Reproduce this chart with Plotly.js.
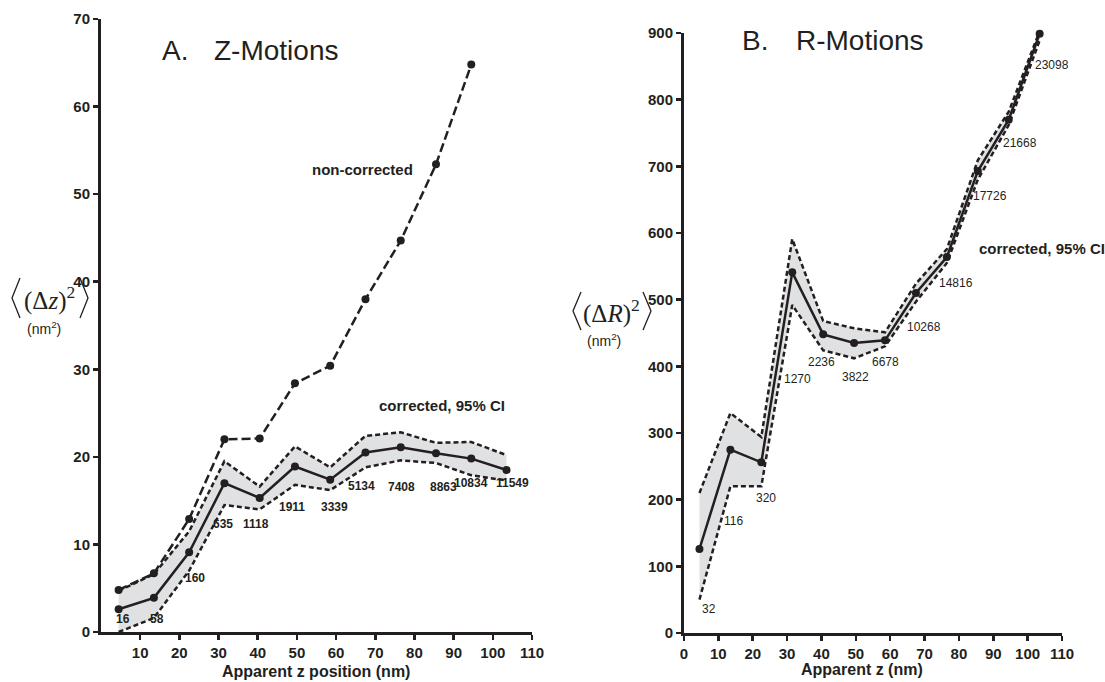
<!DOCTYPE html>
<html>
<head>
<meta charset="utf-8">
<script src="https://cdn.plot.ly/plotly-3.0.1.min.js"></script>
<style>html,body{margin:0;padding:0;background:#fff}#chart{width:1105px;height:682px}</style>
</head>
<body>
<div id="chart"></div>
<script>
// ---------- data ----------
const zPos = [4.5, 13.5, 22.5, 31.5, 40.5, 49.5, 58.5, 67.5, 76.5, 85.5, 94.5, 103.5];

// Panel A: Z-motions (nm^2)
const zCorrected = [2.6, 3.9, 9.1, 17.0, 15.3, 18.9, 17.4, 20.5, 21.1, 20.4, 19.8, 18.5];
const zUpperCI   = [4.7, 6.6, 11.5, 19.5, 16.6, 21.2, 18.8, 22.4, 22.8, 21.6, 21.7, 20.2];
const zLowerCI   = [0.0, 1.6, 7.0, 14.5, 14.0, 16.8, 16.2, 18.8, 19.6, 19.3, 17.9, 17.3];
const zNonCorrected = [4.8, 6.7, 12.9, 22.0, 22.1, 28.4, 30.4, 38.0, 44.7, 53.4, 64.8];
const zCounts = ["16","58","160","635","1118","1911","3339","5134","7408","8863","10834","11549"];

// Panel B: R-motions (nm^2)
const rCorrected = [126, 275, 256, 541, 448, 435, 439, 510, 564, 693, 770, 899];
const rUpperCI   = [210, 330, 294, 591, 468, 457, 451, 524, 576, 709, 782, 903];
const rLowerCI   = [50, 220, 220, 492, 424, 412, 430, 497, 555, 680, 762, 889];
const rCounts = ["32","116","320","1270","2236","3822","6678","10268","14816","17726","21668","23098"];

// tick values
const zXTicks = [10,20,30,40,50,60,70,80,90,100,110];
const zYTicks = [0,10,20,30,40,50,60,70];
const rXTicks = [0,10,20,30,40,50,60,70,80,90,100,110];
const rYTicks = [0,100,200,300,400,500,600,700,800,900];

// ---------- label placement (positions only) ----------
const zLabelX = [5.6,14.3,24.0,31.1,39.6,48.7,59.7,66.6,76.6,87.3,94.4,104.9];
const zLabelY = [1.5,1.5,6.2,12.3,12.3,14.3,14.3,16.7,16.6,16.6,17.0,17.0];
const rLabelX = [7.3,14.3,23.9,32.9,39.9,49.8,58.5,69.8,79.2,89.1,97.8,107.1];
const rLabelY = [36,168,202,381,406,384,406,459,525,655,735,852];

// ---------- styles ----------
const W = 1105, H = 682;
const SANS = "Liberation Sans, Arial, sans-serif";
const SERIF = "Liberation Serif, Times New Roman, serif";
const INK = "#231f20";
const FILL = "#e0e1e3";
const px = x => x / W;
const py = y => 1 - y / H;

const ciLine = {color: INK, width: 2.5, dash: "5px,3px"};
const mainLine = {color: INK, width: 2.5};
const mark = {color: INK, size: 8, symbol: "circle"};

const traces = [
  // Panel A
  {x: zPos, y: zLowerCI, xaxis: "x", yaxis: "y", mode: "lines", line: ciLine, hoverinfo: "skip", cliponaxis: false},
  {x: zPos, y: zUpperCI, xaxis: "x", yaxis: "y", mode: "lines", line: ciLine, fill: "tonexty", fillcolor: FILL, hoverinfo: "skip", cliponaxis: false},
  {x: zPos.slice(0, zNonCorrected.length), y: zNonCorrected, xaxis: "x", yaxis: "y", mode: "lines+markers",
   line: {color: INK, width: 2.5, dash: "9px,4px"}, marker: mark, cliponaxis: false},
  {x: zPos, y: zCorrected, xaxis: "x", yaxis: "y", mode: "lines+markers", line: mainLine, marker: mark, cliponaxis: false},
  // Panel B
  {x: zPos, y: rLowerCI, xaxis: "x2", yaxis: "y2", mode: "lines", line: ciLine, hoverinfo: "skip", cliponaxis: false},
  {x: zPos, y: rUpperCI, xaxis: "x2", yaxis: "y2", mode: "lines", line: ciLine, fill: "tonexty", fillcolor: FILL, hoverinfo: "skip", cliponaxis: false},
  {x: zPos, y: rCorrected, xaxis: "x2", yaxis: "y2", mode: "lines+markers", line: mainLine, marker: mark, cliponaxis: false}
];

const axisCommon = {
  showline: true, linecolor: INK, linewidth: 3, showgrid: false, zeroline: false,
  ticks: "outside", ticklen: 5, tickwidth: 2.5, tickcolor: INK,
  tickfont: {family: SANS, size: 15, color: INK, weight: "bold"}, fixedrange: true
};

const annotations = [];
zCounts.forEach((t, i) => annotations.push({
  xref: "x", yref: "y", x: zLabelX[i], y: zLabelY[i], text: t, showarrow: false,
  font: {family: SANS, size: 12, color: INK, weight: "bold"}
}));
rCounts.forEach((t, i) => annotations.push({
  xref: "x2", yref: "y2", x: rLabelX[i], y: rLabelY[i], text: t, showarrow: false,
  font: {family: SANS, size: 12, color: INK}
}));

function paperText(x, y, text, font, xanchor) {
  annotations.push({xref: "paper", yref: "paper", x: px(x), y: py(y), text: text, showarrow: false,
    xanchor: xanchor || "center", yanchor: "middle", font: font});
}
const titleFont = {family: SANS, size: 28, color: INK};
paperText(160, 50, "A.", titleFont, "left");
paperText(212, 50, "Z-Motions", titleFont, "left");
paperText(740, 41, "B.", titleFont, "left");
paperText(794, 41, "R-Motions", titleFont, "left");

const noteFont = {family: SANS, size: 15, color: INK, weight: "bold"};
paperText(362, 169, "non-corrected", noteFont);
paperText(442, 405, "corrected, 95% CI", noteFont);
paperText(1042, 248, "corrected, 95% CI", noteFont);

const axTitleFont = {family: SANS, size: 16, color: INK, weight: "bold"};
paperText(316, 671, "Apparent z position (nm)", axTitleFont);
paperText(862, 669, "Apparent z (nm)", axTitleFont);

const mathFont = {family: SERIF, size: 25, color: INK};
paperText(49, 298, "(Δ<i>z</i>)<sup>2</sup>", mathFont);
paperText(611, 311, "(Δ<i>R</i>)<sup>2</sup>", mathFont);
const unitFont = {family: SANS, size: 14, color: INK};
paperText(44, 328, "(nm<sup>2</sup>)", unitFont);
paperText(604, 340, "(nm<sup>2</sup>)", unitFont);

function bracket(x0, xt, y0, ym, y1) {
  return {type: "path", xref: "paper", yref: "paper",
    path: `M ${px(x0)} ${py(y0)} L ${px(xt)} ${py(ym)} L ${px(x0)} ${py(y1)}`,
    line: {color: INK, width: 1.3}};
}
const shapes = [
  bracket(20, 12, 278, 298, 318), bracket(80, 88, 278, 298, 318),
  bracket(581, 573, 292, 311, 330), bracket(643, 651, 292, 311, 330)
];

const layout = {
  width: W, height: H, margin: {l: 0, r: 0, t: 0, b: 0},
  paper_bgcolor: "#fff", plot_bgcolor: "rgba(0,0,0,0)", showlegend: false,
  xaxis: Object.assign({}, axisCommon, {domain: [px(101), px(532)], range: [0, 110], anchor: "y",
    tickvals: zXTicks}),
  yaxis: Object.assign({}, axisCommon, {domain: [py(632), py(19)], range: [0, 70], anchor: "x",
    tickvals: zYTicks}),
  xaxis2: Object.assign({}, axisCommon, {domain: [px(684), px(1062)], range: [0, 110], anchor: "y2",
    tickvals: rXTicks}),
  yaxis2: Object.assign({}, axisCommon, {domain: [py(633), py(33)], range: [0, 900], anchor: "x2",
    tickvals: rYTicks}),
  annotations: annotations, shapes: shapes
};

Plotly.newPlot("chart", traces, layout, {displayModeBar: false, staticPlot: true});
</script>
</body>
</html>
